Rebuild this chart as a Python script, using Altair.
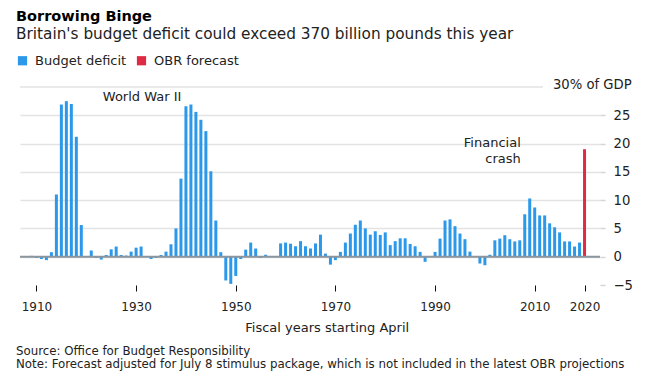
import altair as alt
import pandas as pd

# ---------------- data ----------------
years = list(range(1909, 2021))
deficit = [
    0.15, -0.2, -0.4, -0.6, 0.8,            # 1909-1913
    11.0, 26.9, 27.5, 27.0, 21.2, 5.6,      # 1914-1919
    0.0, 1.1, -0.2, -0.5, 0.3, 1.3, 1.8, 0.3, 0.2, 0.9,   # 1920-1929
    1.6, 1.8, 0.1, -0.4, -0.2, 0.3, 0.9, 2.2, 5.0, 13.8,  # 1930-1939
    26.6, 26.9, 25.6, 24.2, 22.2, 15.1, 6.4, 0.8, -4.2, -4.8,  # 1940-1949
    -3.4, -0.4, 1.25, 2.5, 1.45, -0.2, 0.35, 0.05, 0.1, 2.35,  # 1950-1959
    2.5, 2.3, 1.85, 2.75, 1.85, 1.45, 2.35, 3.9, 0.55, -1.4,   # 1960-1969
    -0.6, 0.85, 2.5, 4.1, 5.65, 6.4, 5.0, 3.9, 4.5, 3.85,      # 1970-1979
    4.3, 2.05, 2.75, 3.25, 3.25, 2.25, 1.85, 0.85, -0.9, 0.0,  # 1980-1989
    0.85, 3.2, 6.4, 6.6, 5.4, 4.1, 3.1, 0.9, 0.0, -1.2,        # 1990-1999
    -1.5, 0.35, 2.9, 3.2, 3.8, 3.1, 2.7, 2.9, 7.5, 10.3,       # 2000-2009
    8.7, 7.3, 7.3, 5.9, 5.2, 4.3, 2.7, 2.7, 1.8, 2.5,          # 2010-2019
    19.0,                                                      # 2020 forecast
]
categories = ["Budget deficit", "OBR forecast"]
forecast_years = [2020]
series = [categories[1] if y in forecast_years else categories[0] for y in years]

x_ticks = [1910, 1930, 1950, 1970, 1990, 2010, 2020]
y_ticks = [-5, 0, 5, 10, 15, 20, 25]

title_text = "Borrowing Binge"
subtitle_text = "Britain's budget deficit could exceed 370 billion pounds this year"
x_title = "Fiscal years starting April"
top_label = "30% of GDP"
top_value = 30
source_text = "Source: Office for Budget Responsibility"
note_text = ("Note: Forecast adjusted for July 8 stimulus package, which is not "
             "included in the latest OBR projections")
ww2_label = {"year": [1931.2], "value": [27.6], "label": ["World War II"]}
crash_label = {"year": [2007.2], "value": [19.35], "label": ["Financial\ncrash"]}

BLUE = "#2b98ea"
RED = "#df2a43"
GRID = "#e3e3e3"
TEXT = "#222222"
FONT = "DejaVu Sans"

df = pd.DataFrame({"year": years, "value": deficit, "series": series})

W, H = 580, 198
xscale = alt.Scale(domain=[1907.7, 2022.1], nice=False, zero=False)
yscale = alt.Scale(domain=[-5, 30], nice=False, zero=False)

x_axis = alt.Axis(values=x_ticks, format="d", tickSize=6, tickColor="#111",
                  tickWidth=1, domain=False, grid=False,
                  labelFontSize=12, labelColor=TEXT, labelPadding=10,
                  title=x_title, titleFontSize=13, titleFontWeight="normal",
                  titleColor=TEXT, titleX=306.7, titleY=46.7,
                  titleAlign="center", titleBaseline="alphabetic")
y_axis = alt.Axis(orient="right", values=y_ticks, grid=True, gridColor=GRID,
                  gridWidth=1.5,
                  gridOpacity={"condition": {"test": "datum.value === -5", "value": 0},
                               "value": 1},
                  domain=False, ticks=True, tickColor="#d5d5d5", tickSize=5,
                  tickWidth=1.5, labelPadding=8, labelAlign="left",
                  labelBaseline="middle", labelFontSize=13.2, labelColor=TEXT,
                  labelOverlap=False, labelBound=False, title=None)

bars = alt.Chart(df).mark_bar(width=3).encode(
    x=alt.X("year:Q", scale=xscale, axis=x_axis),
    y=alt.Y("value:Q", scale=yscale, axis=y_axis),
    y2=alt.datum(0),
    color=alt.Color("series:N", scale=alt.Scale(domain=categories, range=[BLUE, RED]),
                    legend=alt.Legend(orient="none", legendX=-4, legendY=-33,
                                      direction="horizontal", title=None,
                                      symbolType="square", symbolSize=85,
                                      symbolStrokeWidth=0, labelFontSize=13,
                                      labelColor=TEXT, columnPadding=8,
                                      labelOffset=6, padding=0)),
)

top_grid = alt.Chart(pd.DataFrame({"value": [top_value]})).mark_rule(
    color=GRID, strokeWidth=1.5
).encode(y=alt.Y("value:Q", scale=yscale, axis=y_axis), x=alt.value(0), x2=alt.value(523))

top_text = alt.Chart(pd.DataFrame({"value": [top_value], "t": [top_label]})).mark_text(
    align="right", baseline="middle", fontSize=13.2, color=TEXT, dy=-2
).encode(y=alt.Y("value:Q", scale=yscale, axis=y_axis), x=alt.value(611.7), text="t:N")

zero = alt.Chart(pd.DataFrame({"value": [0]})).mark_rule(
    color="#8a959e", strokeWidth=2
).encode(y=alt.Y("value:Q", scale=yscale, axis=y_axis))


def annotation(d, align):
    return alt.Chart(pd.DataFrame(d)).mark_text(
        align=align, baseline="alphabetic", fontSize=13, color=TEXT,
        lineBreak="\n", lineHeight=15.4
    ).encode(
        x=alt.X("year:Q", scale=xscale, axis=x_axis),
        y=alt.Y("value:Q", scale=yscale, axis=y_axis),
        text="label:N",
    )


ww2 = annotation(ww2_label, "center")
crash = annotation(crash_label, "right")


def label(text, y, size, weight="normal", color=TEXT):
    return alt.Chart(pd.DataFrame({"t": [text]})).mark_text(
        align="left", baseline="alphabetic", fontSize=size, fontWeight=weight, color=color
    ).encode(x=alt.value(-4), y=alt.value(y), text="t:N")


title = label(title_text, -66, 14.5, "bold", "#000")
subtitle = label(subtitle_text, -48.5, 15.3, "normal", TEXT)
source = label(source_text, 267.7, 11.8, "normal", TEXT)
note = label(note_text, 280.5, 11.8, "normal", TEXT)

chart = alt.layer(
    bars, top_grid, zero, top_text, ww2, crash, title, subtitle, source, note
).properties(
    width=W, height=H,
    padding={"left": 12, "top": 79, "right": 49, "bottom": 90},
    autosize=alt.AutoSizeParams(type="none"),
).configure(font=FONT).configure_view(stroke=None).configure_axis(labelOverlap=False)

chart.save("out.html", embed_options={"renderer": "svg", "actions": False})
